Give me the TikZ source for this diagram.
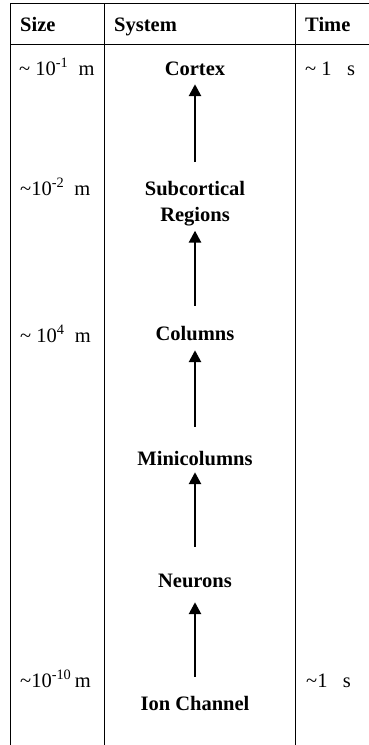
\documentclass[tikz,border=0pt]{standalone}
\usepackage{fontspec}
\setmainfont{Liberation Serif}
\usetikzlibrary{arrows.meta}

\tikzset{
  rule/.style={line width=0.9pt},
  head/.style={font=\fontsize{20.5}{24}\selectfont\bfseries, inner sep=0pt, anchor=base west},
  cell/.style={font=\fontsize{20.5}{24}\selectfont, inner sep=0pt, anchor=base west},
  sys/.style={font=\fontsize{20.5}{26}\selectfont\bfseries, inner sep=0pt,
              text height=14pt, text depth=0pt, anchor=base},
  up/.style={line width=2.6pt, -{Triangle[length=12pt,width=12pt]}},
}
\newcommand{\tl}{\textasciitilde}

\begin{document}
\begin{tikzpicture}[x=1pt,y=1pt]
\useasboundingbox (0,0) rectangle (369,-745);

% table rules
\draw[rule] (10.7,-3.3) -- (369,-3.3);
\draw[rule] (10.7,-44) -- (369,-44);
\draw[rule] (10.7,-3.3) -- (10.7,-745);
\draw[rule] (104.3,-3.3) -- (104.3,-745);
\draw[rule] (295,-3.3) -- (295,-745);

% header
\node[head] (hsize) at (20,-31.5) {Size};
\node[head] (hsys)  at (114,-31.5) {System};
\node[head] (htime) at (305,-31.5) {Time};

% size column
\node[cell] (s1) at (19,-75)  {\tl\ 10\textsuperscript{-1}\ \ m};
\node[cell] (s2) at (20,-195) {\tl10\textsuperscript{-2}\ \ m};
\node[cell] (s3) at (20,-342) {\tl\ 10\textsuperscript{4}\ \ m};
\node[cell] (s4) at (20,-687) {\tl10\textsuperscript{-10}\,m};

% time column
\node[cell] (t1) at (305,-75)  {\tl\ 1\ \ \ s};
\node[cell] (t2) at (306,-687) {\tl1\ \ \ s};

% system levels
\node[sys] (cortex) at (195,-75) {Cortex};
\node[font=\fontsize{20.5}{26}\selectfont\bfseries, inner sep=0pt, align=center, anchor=north]
  (sub) at (195,-181) {Subcortical\\Regions};
\node[sys] (col)  at (195,-340) {Columns};
\node[sys] (mini) at (195,-465) {Minicolumns};
\node[sys] (neu)  at (195,-587) {Neurons};
\node[sys] (ion)  at (195,-710) {Ion Channel};

% bottom-up arrows
\draw[up, shorten <=19pt, shorten >=9pt]   (sub.north) -- (cortex.south);
\draw[up, shorten <=20pt, shorten >=4.5pt] (col.north) -- (sub.south);
\draw[up, shorten <=24pt, shorten >=10pt]  (mini.north) -- (col.south);
\draw[up, shorten <=26pt, shorten >=7pt]   (neu.north) -- (mini.south);
\draw[up, shorten <=19pt, shorten >=15pt]  (ion.north) -- (neu.south);
\end{tikzpicture}
\end{document}
